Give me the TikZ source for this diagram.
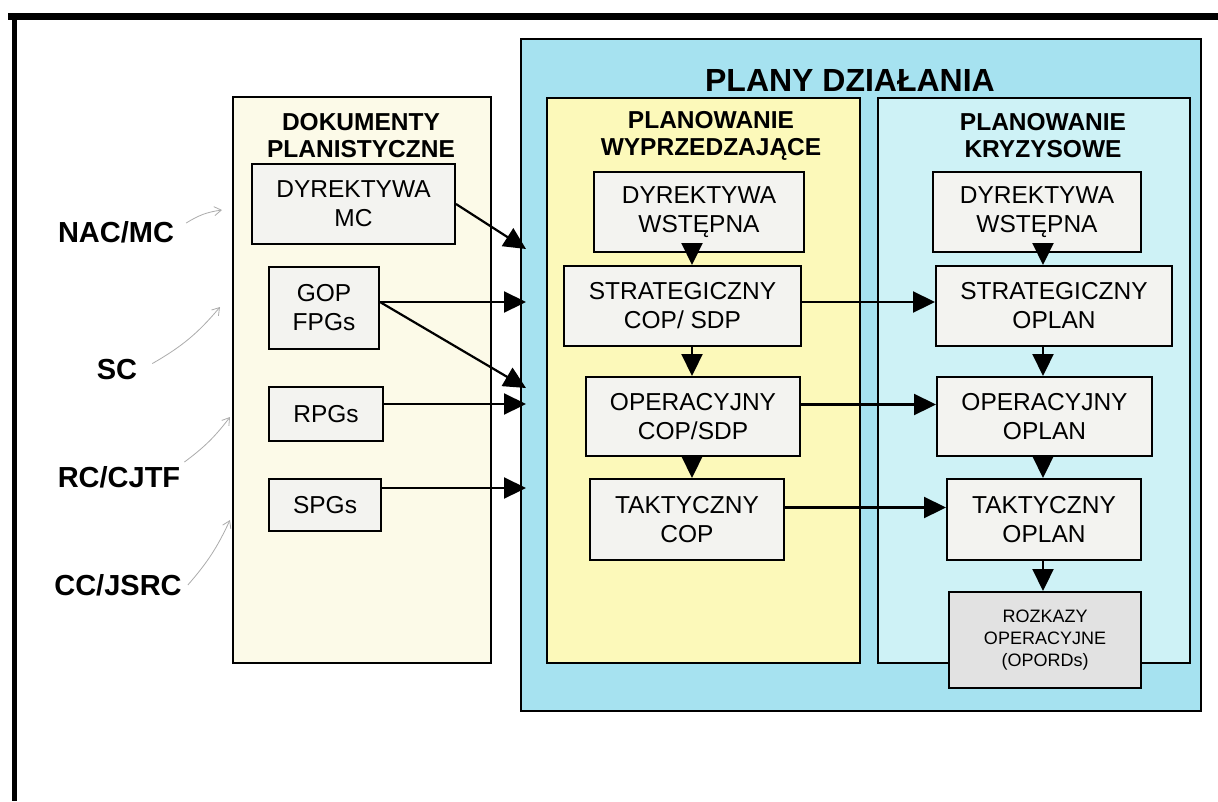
\documentclass[tikz,border=0pt]{standalone}
\usepackage{fontspec}
\setmainfont{Liberation Sans}
\usetikzlibrary{arrows.meta,calc}

\definecolor{planycyan}{RGB}{166,226,240}
\definecolor{kryzcyan}{RGB}{206,242,246}
\definecolor{wyprzyellow}{RGB}{252,249,186}
\definecolor{dokcream}{RGB}{252,250,232}
\definecolor{boxfill}{RGB}{243,243,240}
\definecolor{ordfill}{RGB}{226,226,226}

\begin{document}
\begin{tikzpicture}[x=1pt,y=-1pt,
  panel/.style={draw=black,line width=2pt,anchor=north west,inner sep=0pt},
  docbox/.style={draw=black,line width=2pt,fill=boxfill,align=center,inner sep=0pt,
    font=\fontsize{24.5}{29}\selectfont},
  heading/.style={align=center,font=\fontsize{24.5}{27}\selectfont\bfseries},
  source/.style={inner sep=0pt,font=\fontsize{29}{32}\selectfont\bfseries},
  flow/.style={line width=2.2pt,-{Triangle[length=22pt,width=21pt]}},
  sketch/.style={draw=gray!65,line width=0.8pt,-{Straight Barb[length=7pt,width=9pt]}}
]
\useasboundingbox (0,0) rectangle (1218,801);
\fill[white] (0,0) rectangle (1218,801);

% page frame
\draw[line width=7pt] (8,16.5) -- (1218,16.5);
\draw[line width=5pt] (14.5,13) -- (14.5,801);

% containers
\node[panel,fill=planycyan,minimum width=680pt,minimum height=672pt] (plany) at (520,38) {};
\node[font=\fontsize{32}{34}\selectfont\bfseries] (planyT) at (850,80) {PLANY DZIAŁANIA};
\node[panel,fill=dokcream,minimum width=258pt,minimum height=566pt] (dok) at (232,96) {};
\node[panel,fill=wyprzyellow,minimum width=313pt,minimum height=565pt] (wyprz) at (546,97) {};
\node[panel,fill=kryzcyan,minimum width=312pt,minimum height=565pt] (kryz) at (877,97) {};

\node[heading] (dokT) at (361,136) {DOKUMENTY\\PLANISTYCZNE};
\node[heading] (wyprzT) at (711,136) {PLANOWANIE\\WYPRZEDZAJĄCE};
\node[heading] (kryzT) at (1043,136) {PLANOWANIE\\KRYZYSOWE};

% planning documents
\node[docbox,minimum width=203pt,minimum height=80pt] (dirMC) at (353.5,204) {DYREKTYWA\\MC};
\node[docbox,minimum width=110pt,minimum height=82pt] (gop) at (324,308) {GOP\\FPGs};
\node[docbox,minimum width=114pt,minimum height=54pt] (rpg) at (326,414) {RPGs};
\node[docbox,minimum width=112pt,minimum height=52pt] (spg) at (325,505) {SPGs};

% advance planning
\node[docbox,minimum width=210pt,minimum height=80pt] (dwL) at (699,212) {DYREKTYWA\\WSTĘPNA};
\node[docbox,minimum width=237pt,minimum height=80pt] (stL) at (682.5,306) {STRATEGICZNY\\COP/ SDP};
\node[docbox,minimum width=214pt,minimum height=79pt] (opL) at (693,416.5) {OPERACYJNY\\COP/SDP};
\node[docbox,minimum width=194pt,minimum height=81pt] (tkL) at (687,519.5) {TAKTYCZNY\\COP};

% crisis planning
\node[docbox,minimum width=208pt,minimum height=80pt] (dwR) at (1037,212) {DYREKTYWA\\WSTĘPNA};
\node[docbox,minimum width=236pt,minimum height=80pt] (stR) at (1054,306) {STRATEGICZNY\\OPLAN};
\node[docbox,minimum width=215pt,minimum height=79pt] (opR) at (1044.5,416.5) {OPERACYJNY\\OPLAN};
\node[docbox,minimum width=194pt,minimum height=81pt] (tkR) at (1044,519.5) {TAKTYCZNY\\OPLAN};
\node[docbox,fill=ordfill,minimum width=192pt,minimum height=96pt,
  font=\fontsize{18}{22}\selectfont] (roz) at (1045,640) {ROZKAZY\\OPERACYJNE\\(OPORDs)};

% sources
\node[source] (nac) at (116,232) {NAC/MC};
\node[source] (sc) at (117,370) {SC};
\node[source] (rc) at (119,477) {RC/CJTF};
\node[source] (cc) at (118,585) {CC/JSRC};

% entry points on the plans panel
\coordinate (inA) at (526,249);
\coordinate (inB) at (526,302);
\coordinate (inC) at (526,388);
\coordinate (inD) at (526,404);
\coordinate (inE) at (526,488);
\coordinate (colL) at (692,0);
\coordinate (colR) at (1043,0);

% pencil marks toward the documents panel
\coordinate (skA) at (222,210);
\coordinate (skB) at (220,307);
\coordinate (skC) at (230,417);
\coordinate (skD) at (230,520);
\draw[sketch] ([xshift=12pt,yshift=-2pt]nac.north east) to[bend left=12] (skA);
\draw[sketch] ([xshift=15pt,yshift=-4pt]sc.north east) to[bend right=10] (skB);
\draw[sketch] ([xshift=4pt,yshift=4pt]rc.north east) to[bend right=8] (skC);
\draw[sketch] ([xshift=6pt,yshift=0pt]cc.east) to[bend right=8] (skD);

% documents into plans
\draw[flow] (dirMC.east) -- (inA);
\draw[flow] ([yshift=6pt]gop.east) -- (inB);
\draw[flow] ([yshift=6pt]gop.east) -- (inC);
\draw[flow] ([yshift=10pt]rpg.east) -- (inD);
\draw[flow] ([yshift=17pt]spg.east) -- (inE);

% advance planning chain
\draw[flow] (dwL.south -| colL) -- (stL.north -| colL);
\draw[flow] (stL.south -| colL) -- (opL.north -| colL);
\draw[flow] (opL.south -| colL) -- (tkL.north -| colL);

% crisis planning chain
\draw[flow] (dwR.south -| colR) -- (stR.north -| colR);
\draw[flow] (stR.south -| colR) -- (opR.north -| colR);
\draw[flow] (opR.south -| colR) -- (tkR.north -| colR);
\draw[flow] (tkR.south -| colR) -- (roz.north -| colR);

% advance to crisis
\draw[flow] ([yshift=4pt]stL.east) -- ([yshift=4pt]stR.west);
\draw[flow] ([yshift=12pt]opL.east) -- ([yshift=12pt]opR.west);
\draw[flow] ([yshift=12pt]tkL.east) -- ([yshift=12pt]tkR.west);
\end{tikzpicture}
\end{document}
